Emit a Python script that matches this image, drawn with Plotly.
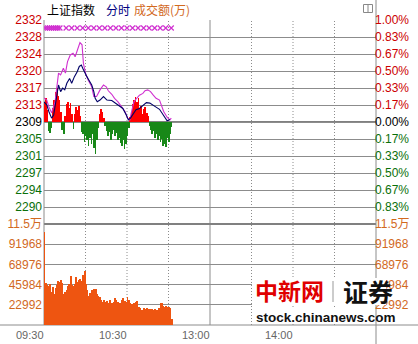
import plotly.graph_objects as go

# ---------------- data ----------------
prev_close = 2308.93

# leading (magenta) line: minutes after 09:30, index value
lead_minutes = [0, 2, 3.5, 5.5, 8, 9.5, 10.5, 12, 14, 15.5, 17, 19, 21, 22.5, 24.5, 26, 27.5, 28.5,
                30, 32, 34.5, 36, 38, 40.5, 43, 45, 46.5, 49, 51, 53.5, 56, 58.5, 60.5, 62, 63,
                65, 67, 69, 71.5, 73, 75, 77, 79, 81, 83.5, 85, 86.5, 89, 91, 92]
lead_values = [2314.4, 2313.9, 2312.4, 2311.0, 2313.5, 2316.9, 2320.0, 2319.6, 2321.1, 2320.0,
               2322.6, 2324.1, 2324.5, 2323.7, 2325.6, 2326.9, 2326.4, 2322.2, 2320.0, 2318.4,
               2316.9, 2314.7, 2314.7, 2316.2, 2317.3, 2316.9, 2316.0, 2315.2, 2314.3, 2313.5,
               2312.4, 2311.3, 2309.8, 2309.4, 2310.9, 2313.5, 2314.3, 2315.0, 2315.4, 2316.0,
               2316.2, 2315.8, 2315.0, 2314.3, 2313.9, 2312.4, 2311.3, 2310.0, 2309.4, 2309.8]

# index (navy) line
index_minutes = [0, 2, 3.5, 5.5, 7, 8, 9.5, 10.5, 12, 13.5, 15, 16.5, 18.5, 20, 22, 24, 25.5, 27,
                 28, 29.5, 31, 32.5, 34.5, 36, 37, 38.5, 40.5, 43, 45.5, 49, 53.5, 57, 59.5, 61,
                 62.5, 64.5, 66.5, 69, 71.5, 74, 76.5, 79, 81, 83.5, 85.5, 87.5, 89, 91]
index_values = [2313.5, 2312.8, 2311.3, 2309.8, 2310.5, 2312.4, 2315.8, 2317.3, 2315.8, 2316.6,
                2316.2, 2317.7, 2318.8, 2317.7, 2319.2, 2320.3, 2321.5, 2321.8, 2321.1, 2320.0,
                2319.2, 2318.4, 2317.3, 2315.8, 2314.3, 2313.5, 2313.9, 2314.7, 2313.9, 2313.8,
                2312.8, 2312.0, 2310.5, 2309.4, 2309.8, 2310.9, 2311.7, 2312.0, 2312.6, 2313.3,
                2313.2, 2312.6, 2312.3, 2311.8, 2310.9, 2310.0, 2309.2, 2309.5]

# per-minute buy/sell strength bars (index points, + red / - green)
strength = [4.5, 5.4, 2.7, -2.0, -2.5, -1.4, 3.2, 5.0, 6.8, 7.7, 5.9, 5.0, 2.3, -1.8, -2.7, 1.4,
            4.1, 4.5, 3.2, 4.3, 1.8, -1.6, 1.8, 3.4, 2.7, 3.6, 1.4, -2.3, -2.7, -4.5, -3.2, -4.1,
            -5.4, -3.6, -5.0, -2.7, -5.9, -7.2, -4.1, -1.4, 1.8, 2.9, 2.3, 0.9, -0.9, -2.0, -3.2,
            -2.3, -4.1, -2.7, -1.8, -3.2, -2.5, -4.1, -3.6, -4.8, -5.4, -4.1, -6.1, -5.0, -3.2,
            -1.4, 1.1, 2.3, 4.1, 5.0, 5.7, 4.5, 5.4, 3.2, 3.6, 1.8, 2.9, 3.4, 2.0, 1.4, -0.9,
            -1.8, -2.7, -2.0, -3.6, -2.7, -4.1, -3.2, -4.5, -3.8, -5.4, -5.0, -5.7, -3.6, -4.5,
            -2.7, -1.1]

# per-minute turnover (万)
volume = [105600, 47900, 45200, 44000, 46400, 37700, 43400, 35800, 42200, 45000, 50100, 49000,
          51600, 47900, 35800, 38000, 39600, 44100, 47100, 55400, 45200, 44000, 47100, 54700,
          49000, 50900, 52800, 50000, 56600, 61100, 46400, 40300, 32800, 36000, 39600, 35800,
          41500, 41500, 35800, 33000, 32000, 29000, 26400, 28300, 26400, 27000, 25600, 28300,
          24500, 25600, 26400, 30200, 28000, 26400, 24500, 25300, 29000, 30200, 27000, 26400,
          32000, 28300, 24500, 23800, 24000, 25300, 26400, 27500, 20700, 18900, 17000, 17500,
          18900, 17700, 19600, 18500, 17700, 17700, 17700, 17000, 17700, 17200, 17000, 18900,
          25300, 24500, 22000, 20700, 21500, 20700, 20000, 19000, 6400]
minutes = list(range(len(volume)))
strength_minutes = list(range(len(strength)))

# marker row (x) in the top band
mark_minutes = [1, 2.5, 4, 5.5, 7, 8.5, 10, 11.5, 16, 20, 24, 28, 32, 36, 40, 44, 48, 52, 56, 60,
                64, 68, 72, 76, 80, 84, 88, 92]
mark_level = 2330.2

# axis tick labels
price_steps = [6, 5, 4, 3, 2, 1, 0, -1, -2, -3, -4, -5]
price_labels = ["2332", "2328", "2324", "2320", "2317", "2313", "2309", "2305", "2301", "2297",
                "2294", "2290"]
pct_labels = ["1.00%", "0.83%", "0.67%", "0.50%", "0.33%", "0.17%", "0.00%", "0.17%", "0.33%",
              "0.50%", "0.67%", "0.83%"]
vol_ticks = [114960, 91968, 68976, 45984, 22992]
vol_labels = ["11.5万", "91968", "68976", "45984", "22992"]
time_ticks = [0, 60, 120, 180]
time_labels = ["09:30", "10:30", "13:00", "14:00"]
dotted_minutes = [30, 60, 90, 150, 180, 210]
session_break = 120
session_end = 240

# ---------------- styling ----------------
RED, GREEN, BLACK = "#cc0000", "#0a700a", "#000000"
ORANGE = "#d2691e"
GRID = "#8c8c8c"
FONT = "Liberation Sans, Arial, Noto Sans CJK SC, sans-serif"
CJK = "Noto Sans CJK SC, sans-serif"

# figure geometry (pixels)
W, H = 418, 344
L, R, T, B = 44, 376, 20, 325


def px_x(p):
    return (p - L) / (R - L)


def px_y(p):
    return (B - p) / (B - T)


split = px_y(224)


def step_val(k):
    return prev_close * (1 + k / 600.0)


price_vals = [step_val(k) for k in price_steps]


def colored(lbl, k):
    c = RED if k > 0 else (BLACK if k == 0 else GREEN)
    return f'<span style="color:{c}">{lbl}</span>'


price_text = [colored(l, k) for l, k in zip(price_labels, price_steps)]
pct_text = [colored(l, k) for l, k in zip(pct_labels, price_steps)]

fig = go.Figure()

# volume bars
fig.add_trace(go.Bar(x=minutes, y=volume, yaxis="y2", marker=dict(color="#ee5511", line=dict(width=0)),
                     width=0.72, offset=0, hoverinfo="skip"))

# strength bars
fig.add_trace(go.Bar(x=strength_minutes, y=strength, base=prev_close, yaxis="y",
                     marker=dict(color=["#ff0000" if v > 0 else "#188818" for v in strength],
                                 line=dict(width=0)),
                     width=0.5, offset=0, hoverinfo="skip"))

# lines
fig.add_trace(go.Scatter(x=lead_minutes, y=lead_values, mode="lines", yaxis="y",
                         line=dict(color="#d030d0", width=1.1), hoverinfo="skip"))
fig.add_trace(go.Scatter(x=index_minutes, y=index_values, mode="lines", yaxis="y",
                         line=dict(color="#000066", width=1.1), hoverinfo="skip"))

# marker row
fig.add_trace(go.Scatter(x=mark_minutes, y=[mark_level] * len(mark_minutes), mode="markers",
                         yaxis="y", marker=dict(symbol="x-thin", size=5,
                                                line=dict(width=1.2, color="#d030d0")),
                         hoverinfo="skip"))

# helper traces so the right-hand axes render
fig.add_trace(go.Scatter(x=[0], y=[prev_close], yaxis="y3", mode="markers",
                         marker=dict(opacity=0), hoverinfo="skip"))
fig.add_trace(go.Scatter(x=[0], y=[0], yaxis="y4", mode="markers",
                         marker=dict(opacity=0), hoverinfo="skip"))

price_range = [step_val(-6), step_val(6)]
CLEAR = "rgba(0,0,0,0)"

fig.update_layout(
    width=W, height=H,
    margin=dict(l=L, r=W - R, t=T, b=H - B, pad=0),
    paper_bgcolor="white", plot_bgcolor="white",
    showlegend=False, bargap=0,
    font=dict(family=FONT, size=12),
    xaxis=dict(domain=[0, 1], range=[0, session_end], anchor="y2", showgrid=False, zeroline=False,
               showline=False, tickvals=time_ticks, ticktext=time_labels, ticks="outside",
               ticklen=6, tickcolor=CLEAR, automargin=False,
               ticklabelposition="outside left",
               tickfont=dict(size=11, color="#666666", family=FONT)),
    yaxis=dict(domain=[split, 1], range=price_range, tickvals=price_vals, ticktext=price_text,
               showgrid=True, gridcolor=GRID, gridwidth=1, zeroline=False, showline=False, ticks="",
               ticklabelstandoff=1,
               automargin=False, tickfont=dict(size=12, family=FONT), anchor="x"),
    yaxis3=dict(overlaying="y", side="right", range=price_range, tickvals=price_vals,
                ticktext=pct_text, showgrid=False, zeroline=False, showline=False, ticks="",
                ticklabelstandoff=-2,
                automargin=False, tickfont=dict(size=12, family=FONT), anchor="x"),
    yaxis2=dict(domain=[0, split], range=[0, vol_ticks[0]], tickvals=vol_ticks, ticktext=vol_labels,
                showgrid=True, gridcolor=GRID, gridwidth=1, zeroline=False, showline=False, ticks="",
                ticklabelstandoff=1,
                automargin=False, tickfont=dict(size=12, color=ORANGE, family=FONT), anchor="x"),
    yaxis4=dict(overlaying="y2", side="right", range=[0, vol_ticks[0]], tickvals=vol_ticks,
                ticktext=vol_labels, showgrid=False, zeroline=False, showline=False, ticks="",
                ticklabelstandoff=-2,
                automargin=False, tickfont=dict(size=12, color=ORANGE, family=FONT), anchor="x"),
)

shapes = []
# dotted verticals
for m in dotted_minutes:
    shapes.append(dict(type="line", xref="x", yref="paper", x0=m, x1=m, y0=0, y1=1,
                       line=dict(color=GRID, width=1, dash="1px,2px"), layer="below"))
# session break solid
shapes.append(dict(type="line", xref="x", yref="paper", x0=session_break, x1=session_break, y0=0, y1=1,
                   line=dict(color=GRID, width=1), layer="below"))
# thick baselines
shapes.append(dict(type="line", xref="paper", yref="y", x0=0, x1=1, y0=prev_close, y1=prev_close,
                   line=dict(color="#808080", width=2), layer="below"))
shapes.append(dict(type="line", xref="paper", yref="paper", x0=0, x1=1, y0=split, y1=split,
                   line=dict(color="#808080", width=2), layer="below"))
# borders
shapes.append(dict(type="line", xref="paper", yref="paper", x0=0, x1=0, y0=0, y1=1,
                   line=dict(color=GRID, width=1), layer="below"))
shapes.append(dict(type="line", xref="paper", yref="paper", x0=1, x1=1, y0=px_y(0), y1=px_y(H),
                   line=dict(color=GRID, width=1), layer="below"))
shapes.append(dict(type="line", xref="paper", yref="paper", x0=px_x(0), x1=px_x(W), y0=0, y1=0,
                   line=dict(color=GRID, width=1), layer="below"))
# small window icon
shapes.append(dict(type="rect", xref="paper", yref="paper", x0=px_x(363.5), x1=px_x(372.5),
                   y0=px_y(12.5), y1=px_y(4.5), line=dict(color="#888888", width=1)))
shapes.append(dict(type="line", xref="paper", yref="paper", x0=px_x(368), x1=px_x(368),
                   y0=px_y(12.5), y1=px_y(4.5), line=dict(color="#888888", width=1)))
# watermark backing
shapes.append(dict(type="rect", xref="paper", yref="paper", x0=px_x(252), x1=px_x(386),
                   y0=px_y(305), y1=px_y(278), fillcolor="white", line=dict(width=0), layer="above"))
shapes.append(dict(type="rect", xref="paper", yref="paper", x0=px_x(252), x1=px_x(375),
                   y0=px_y(323), y1=px_y(309), fillcolor="white", line=dict(width=0), layer="above"))
shapes.append(dict(type="line", xref="paper", yref="paper", x0=px_x(333), x1=px_x(333),
                   y0=px_y(302), y1=px_y(281), line=dict(color="#999999", width=1), layer="above"))
fig.update_layout(shapes=shapes)

ann = []
ann.append(dict(text="上证指数", x=px_x(45), y=px_y(10), xref="paper", yref="paper", xanchor="left",
                yanchor="middle", showarrow=False, font=dict(family=CJK, size=12, color=BLACK)))
ann.append(dict(text="分时", x=px_x(104), y=px_y(10), xref="paper", yref="paper", xanchor="left",
                yanchor="middle", showarrow=False, font=dict(family=CJK, size=12, color="#000080")))
ann.append(dict(text="成交额(万)", x=px_x(132), y=px_y(10), xref="paper", yref="paper", xanchor="left",
                yanchor="middle", showarrow=False, font=dict(family=CJK, size=12, color=ORANGE)))
ann.append(dict(text="<b>中新网</b>", x=px_x(289), y=px_y(290), xref="paper", yref="paper",
                xanchor="center", yanchor="middle", showarrow=False,
                font=dict(family=CJK, size=23, color="#e00000")))
ann.append(dict(text="<b>证券</b>", x=px_x(368), y=px_y(291), xref="paper", yref="paper",
                xanchor="center", yanchor="middle", showarrow=False,
                font=dict(family=CJK, size=25, color="#111111")))
ann.append(dict(text="<b>stock.chinanews.com</b>", x=px_x(326), y=px_y(317), xref="paper", yref="paper",
                xanchor="center", yanchor="middle", showarrow=False,
                font=dict(family=FONT, size=13.5, color="#111111")))
fig.update_layout(annotations=ann)

fig.write_html("out.html")
